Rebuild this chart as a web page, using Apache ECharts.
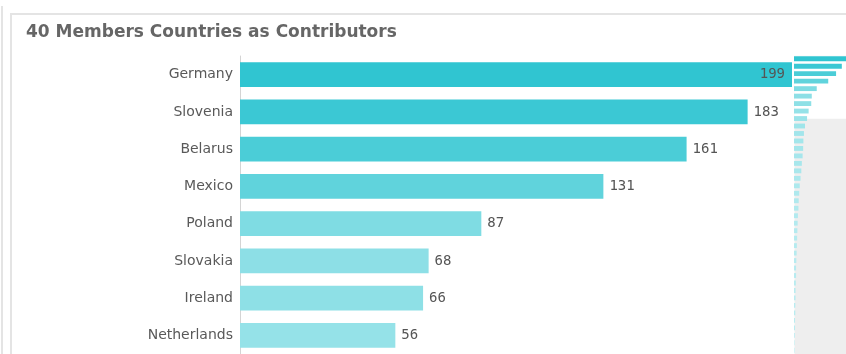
<!DOCTYPE html>
<html>
<head>
<meta charset="utf-8">
<script src="https://cdn.jsdelivr.net/npm/echarts@6/dist/echarts.min.js"></script>
<style>
	html, body { margin: 0; padding: 0; background: #fff; }
	#chart { width: 846px; height: 354px; }
</style>
</head>
<body>
<div id="chart"></div>
<script>
	// countries sorted by contributions, first 8 are the visible window
	var countries = ['Germany', 'Slovenia', 'Belarus', 'Mexico', 'Poland', 'Slovakia', 'Ireland', 'Netherlands',
		'Italy', 'Spain', 'France', 'Austria', 'Czech Republic', 'Hungary', 'Romania', 'Croatia',
		'Serbia', 'Ukraine', 'Portugal', 'Belgium', 'Sweden', 'Finland', 'Norway', 'Denmark',
		'Estonia', 'Latvia', 'Lithuania', 'Bulgaria', 'Greece', 'Turkey', 'Switzerland', 'Brazil',
		'Argentina', 'Chile', 'Colombia', 'Canada', 'Japan', 'China', 'India', 'Israel'];
	var contributions = [199, 183, 161, 131, 87, 68, 66, 56,
		50, 42, 38, 36, 35, 33, 30, 28,
		25, 22, 20, 18, 17, 15, 14, 13,
		12, 11, 10, 9, 8, 8, 7, 6,
		6, 5, 5, 4, 4, 3, 2, 2];
	var visibleCount = 8;

	var maxVal = Math.max.apply(null, contributions);

	var mainData = contributions.map(function (v, i) {
		var item = { value: [v, countries[i]] };
		if (v === maxVal) {
			item.label = { position: 'insideRight', distance: 7 };
		}
		return item;
	});
	var miniData = contributions.map(function (v, i) {
		return [v, countries[i]];
	});

	var chart = echarts.init(document.getElementById('chart'));
	chart.setOption({
		backgroundColor: '#fff',
		animation: false,
		title: {
			text: '40 Members Countries as Contributors',
			left: 21,
			top: 19,
			textStyle: {
				fontFamily: 'DejaVu Sans',
				fontSize: 17,
				fontWeight: 'bold',
				color: '#666666'
			}
		},
		graphic: [
			{ type: 'rect', left: 1, top: 6, shape: { width: 2, height: 348 }, style: { fill: '#e4e4e4' } },
			{ type: 'rect', left: 10, top: 13, shape: { width: 836, height: 2 }, style: { fill: '#e4e4e4' } },
			{ type: 'rect', left: 10, top: 13, shape: { width: 2, height: 341 }, style: { fill: '#e4e4e4' } }
		],
		visualMap: {
			show: false,
			type: 'continuous',
			dimension: 0,
			seriesIndex: [0, 1],
			min: 0,
			max: 199,
			inRange: { color: ['#bdedf1', '#30c5d1'] }
		},
		grid: [
			{ left: 240, right: 54, top: 56, bottom: 0 },
			{ left: 794, right: 0, top: 55, height: 316 }
		],
		xAxis: [
			{ gridIndex: 0, type: 'value', min: 0, max: maxVal, show: false },
			{ gridIndex: 1, type: 'value', min: 0, max: maxVal, show: false }
		],
		yAxis: [
			{
				gridIndex: 0,
				type: 'category',
				inverse: true,
				data: countries,
				axisLine: { show: true, lineStyle: { color: '#d4d4d4', width: 1 } },
				axisTick: { show: false },
				axisLabel: {
					margin: 7,
					fontFamily: 'DejaVu Sans',
					fontSize: 14,
					color: '#595959'
				}
			},
			{
				gridIndex: 1,
				type: 'category',
				inverse: true,
				data: countries,
				show: false
			}
		],
		dataZoom: [{
			type: 'slider',
			yAxisIndex: 0,
			orient: 'vertical',
			startValue: 0,
			endValue: visibleCount - 1,
			left: 794,
			top: 55,
			height: 351,
			width: 52,
			z: 3,
			backgroundColor: '#eeeeee',
			fillerColor: '#ffffff',
			borderColor: 'transparent',
			borderRadius: 0,
			showDataShadow: false,
			showDetail: false,
			brushSelect: false,
			handleSize: 0,
			moveHandleSize: 0,
			handleStyle: { opacity: 0 },
			filterMode: 'filter'
		}],
		series: [
			{
				type: 'bar',
				xAxisIndex: 0,
				yAxisIndex: 0,
				encode: { x: 0, y: 1 },
				barCategoryGap: '33%',
				data: mainData,
				label: {
					show: true,
					position: 'right',
					distance: 6,
					fontFamily: 'DejaVu Sans Mono',
					fontSize: 14,
					color: '#555',
					formatter: function (p) { return p.value[0]; }
				}
			},
			{
				type: 'bar',
				xAxisIndex: 1,
				yAxisIndex: 1,
				encode: { x: 0, y: 1 },
				barCategoryGap: '35%',
				z: 6,
				silent: true,
				data: miniData
			}
		]
	});
</script>
</body>
</html>
